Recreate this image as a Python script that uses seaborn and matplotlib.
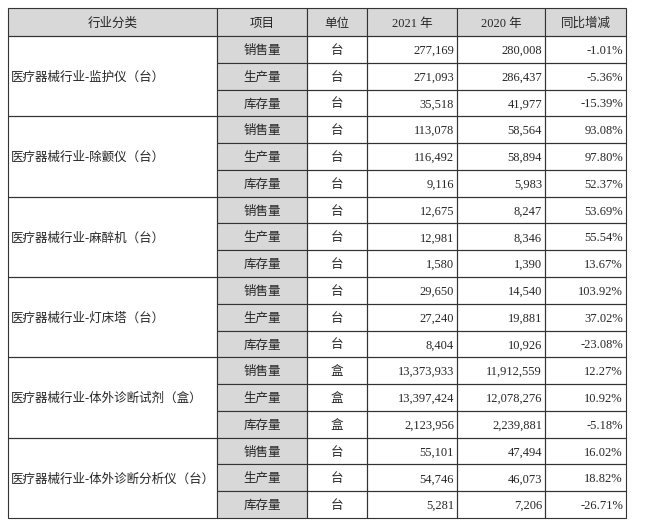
import matplotlib
matplotlib.use("Agg")
import matplotlib.pyplot as plt
import seaborn as sns
import pandas as pd

sns.set_style("white")
plt.rcParams['font.family'] = ['Liberation Serif', 'Noto Sans CJK SC']

headers = ["行业分类", "项目", "单位", "2021 年", "2020 年", "同比增减"]
categories = ["医疗器械行业-监护仪（台）", "医疗器械行业-除颤仪（台）", "医疗器械行业-麻醉机（台）",
              "医疗器械行业-灯床塔（台）", "医疗器械行业-体外诊断试剂（盒）", "医疗器械行业-体外诊断分析仪（台）"]
items = ["销售量", "生产量", "库存量"]
units = ["台", "台", "台", "台", "盒", "台"]
v2021 = [[277169, 271093, 35518], [113078, 116492, 9116], [12675, 12981, 1580],
         [29650, 27240, 8404], [13373933, 13397424, 2123956], [55101, 54746, 5281]]
v2020 = [[280008, 286437, 41977], [58564, 58894, 5983], [8247, 8346, 1390],
         [14540, 19881, 10926], [11912559, 12078276, 2239881], [47494, 46073, 7206]]
yoy = [["-1.01%", "-5.36%", "-15.39%"], ["93.08%", "97.80%", "52.37%"], ["53.69%", "55.54%", "13.67%"],
       ["103.92%", "37.02%", "-23.08%"], ["12.27%", "10.92%", "-5.18%"], ["16.02%", "18.82%", "-26.71%"]]

rows = []
for c, u, a, b, y in zip(categories, units, v2021, v2020, yoy):
    for i, it in enumerate(items):
        rows.append(dict(cat=c, item=it, unit=u, y21=a[i], y20=b[i], yoy=y[i]))
df = pd.DataFrame(rows)

fig = plt.figure(figsize=(6.6, 5.28), dpi=100)
ax = fig.add_axes([0, 0, 1, 1])
ax.set_xlim(0, 660); ax.set_ylim(528, 0); ax.axis("off")

xs = [8, 217, 307, 367, 457, 545, 626]
top, hh = 8, 28
rh = (518 - 36) / 18
grey = "#d8d8d8"
fs = 9
va = "center_baseline"

def rect(x0, y0, x1, y1, fill=None):
    ax.add_patch(plt.Rectangle((x0, y0), x1 - x0, y1 - y0, facecolor=fill or "none",
                               edgecolor="#333333", lw=0.8))

for j, h in enumerate(headers):
    rect(xs[j], top, xs[j + 1], top + hh, grey)
    ax.text((xs[j] + xs[j + 1]) / 2, top + hh / 2, h, ha="center", va=va, fontsize=fs)

y0 = top + hh
for k, r in df.iterrows():
    ya, yb = y0 + k * rh, y0 + (k + 1) * rh
    ym = (ya + yb) / 2
    rect(xs[1], ya, xs[2], yb, grey)
    ax.text((xs[1] + xs[2]) / 2, ym, r["item"], ha="center", va=va, fontsize=fs)
    for j in (2, 3, 4, 5):
        rect(xs[j], ya, xs[j + 1], yb)
    ax.text((xs[2] + xs[3]) / 2, ym, r["unit"], ha="center", va=va, fontsize=fs)
    ax.text(xs[4] - 3, ym, f"{r['y21']:,}", ha="right", va=va, fontsize=fs)
    ax.text(xs[5] - 3, ym, f"{r['y20']:,}", ha="right", va=va, fontsize=fs)
    ax.text(xs[6] - 3, ym, r["yoy"], ha="right", va=va, fontsize=fs)
    if k % 3 == 0:
        rect(xs[0], ya, xs[1], ya + 3 * rh)
        ax.text(xs[0] + 3, ya + 1.5 * rh, r["cat"], ha="left", va=va, fontsize=fs)

fig.savefig("out.png", dpi=100)
